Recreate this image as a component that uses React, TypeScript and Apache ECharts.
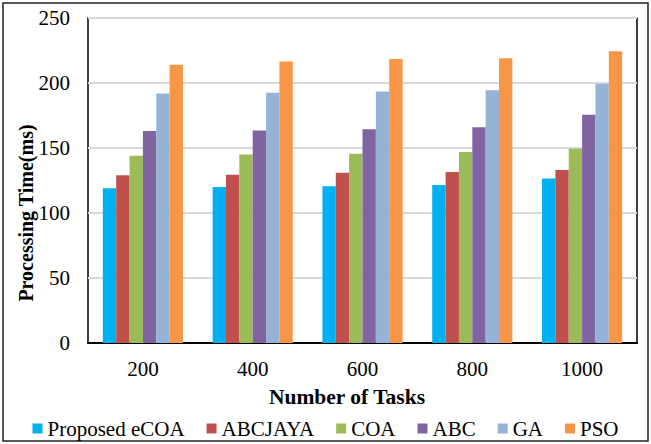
import React, { useEffect, useRef } from "react";
import * as echarts from "echarts";

const categories = ["200", "400", "600", "800", "1000"];
const seriesNames = ["Proposed eCOA", "ABCJAYA", "COA", "ABC", "GA", "PSO"];
const eCOA = [119, 120, 120.5, 121.5, 126.5];
const abcJaya = [129, 129.5, 131, 131.5, 133];
const coa = [144, 145, 145.5, 147, 149.5];
const abc = [163, 163.5, 164.5, 166, 175.5];
const ga = [192, 192.5, 193.5, 194.5, 199.5];
const pso = [214, 216.5, 218.5, 219, 224.5];
const colors = ["#00B0F0", "#C0504D", "#9BBB59", "#8064A2", "#95B3D7", "#F79646"];

const yTitle = "Processing Time(ms)";
const xTitle = "Number of Tasks";
const FONT = "Liberation Serif";

export default function App() {
  const ref = useRef<HTMLDivElement>(null);
  useEffect(() => {
    if (!ref.current) return;
    const chart = echarts.init(ref.current, null, { renderer: "svg" });
    const data = [eCOA, abcJaya, coa, abc, ga, pso];
    chart.setOption({
      animation: false,
      backgroundColor: "#fff",
      textStyle: { fontFamily: FONT },
      graphic: [
        {
          type: "rect",
          shape: { x: 3, y: 3, width: 645, height: 438 },
          style: { fill: "none", stroke: "#222", lineWidth: 1.5 },
          silent: true,
        },
        {
          // axis titles sit where they were placed by hand, off the plot's centre
          type: "text",
          x: 26,
          y: 213,
          rotation: Math.PI / 2,
          style: {
            text: yTitle,
            fontFamily: FONT,
            fontSize: 20,
            fontWeight: "bold",
            fill: "#000",
            align: "center",
            verticalAlign: "middle",
          },
          silent: true,
        },
        {
          type: "text",
          x: 347,
          y: 397,
          style: {
            text: xTitle,
            fontFamily: FONT,
            fontSize: 21.5,
            fontWeight: "bold",
            fill: "#000",
            align: "center",
            verticalAlign: "middle",
          },
          silent: true,
        },
      ],
      grid: {
        left: 88,
        right: 14,
        top: 18,
        bottom: 101,
        show: true,
        borderColor: "#000",
        borderWidth: 1.5,
      },
      legend: {
        data: seriesNames,
        bottom: 0,
        left: "center",
        icon: "rect",
        itemWidth: 10,
        itemHeight: 10,
        itemGap: 22,
        textStyle: { fontFamily: FONT, fontSize: 21, color: "#000" },
      },
      xAxis: {
        type: "category",
        data: categories,
        axisLine: { lineStyle: { color: "#000", width: 2 } },
        axisTick: { show: false },
        axisLabel: { fontFamily: FONT, fontSize: 21, color: "#000", margin: 15 },
      },
      yAxis: {
        type: "value",
        min: 0,
        max: 250,
        interval: 50,
        axisLine: { show: false },
        axisTick: { show: false },
        axisLabel: { fontFamily: FONT, fontSize: 21, color: "#000", margin: 18 },
        splitLine: { lineStyle: { color: "#d9d9d9", width: 2 } },
      },
      series: seriesNames.map((name, i) => ({
        name,
        type: "bar",
        data: data[i],
        itemStyle: { color: colors[i] },
        barGap: "0%",
        barCategoryGap: "27%",
      })),
    });
    return () => chart.dispose();
  }, []);
  return (
    <div
      ref={ref}
      style={{ position: "fixed", left: 0, top: 0, width: 651, height: 444 }}
    />
  );
}
